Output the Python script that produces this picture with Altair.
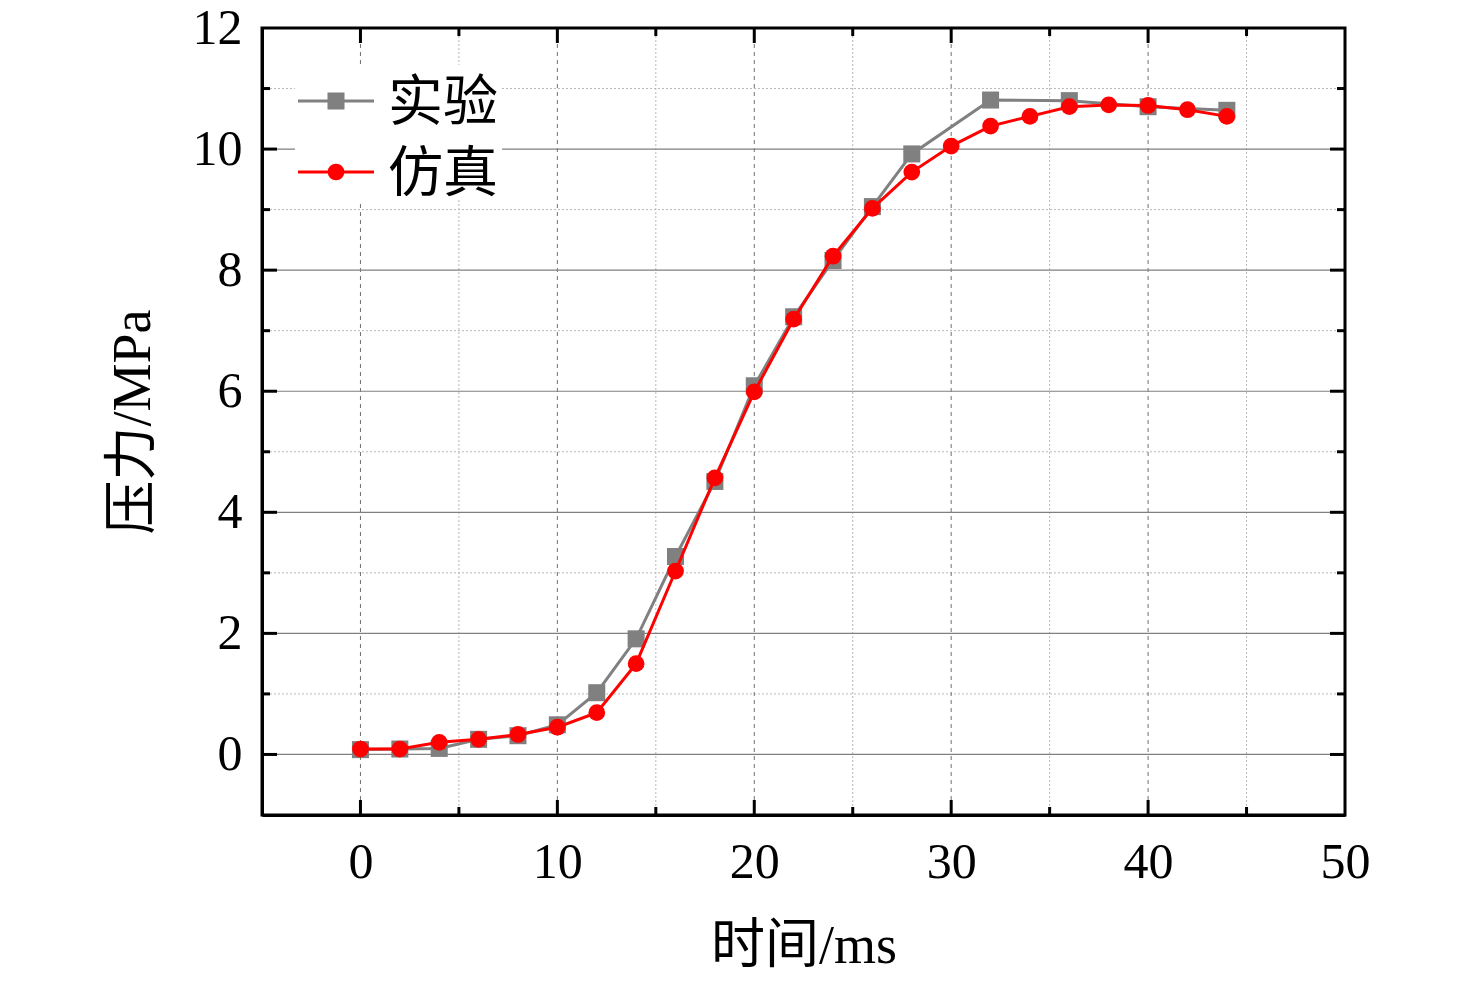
import altair as alt
import pandas as pd

# ---------------- data ----------------
t_exp = [0, 2, 4, 6, 8, 10, 12, 14, 16, 18, 20, 22, 24, 26, 28, 32, 36, 40, 44]
p_exp = [0.08, 0.09, 0.1, 0.25, 0.31, 0.49, 1.02, 1.91, 3.27, 4.51, 6.09, 7.23,
         8.16, 9.05, 9.92, 10.81, 10.80, 10.70, 10.64]
t_sim = [0, 2, 4, 6, 8, 10, 12, 14, 16, 18, 20, 22, 24, 26, 28, 30, 32, 34, 36,
         38, 40, 42, 44]
p_sim = [0.09, 0.09, 0.2, 0.25, 0.33, 0.45, 0.69, 1.5, 3.03, 4.57, 5.99, 7.19,
         8.23, 9.02, 9.62, 10.05, 10.38, 10.54, 10.70, 10.73, 10.72, 10.65, 10.54]

series_names = ["实验", "仿真"]
x_major = [0, 10, 20, 30, 40]
x_minor = [5, 15, 25, 35, 45]
y_major = [0, 2, 4, 6, 8, 10]
y_minor = [1, 3, 5, 7, 9, 11]
x_labels = [0, 10, 20, 30, 40, 50]
y_labels = [0, 2, 4, 6, 8, 10, 12]

W, H = 1083, 787
FONT = "Liberation Serif, Times New Roman, Noto Sans CJK SC"
GRAY = "#808080"
RED = "#ff0000"

exp_df = pd.DataFrame({"t": t_exp, "p": p_exp})
sim_df = pd.DataFrame({"t": t_sim, "p": p_sim})

xs = alt.Scale(domain=[-5, 50], nice=False, zero=False)
ys = alt.Scale(domain=[-1, 12], nice=False, zero=False)

X = alt.X("t:Q", scale=xs,
          axis=alt.Axis(values=x_labels, title="时间/ms", tickSize=0, grid=False,
                        labelPadding=22, titlePadding=32, format="d",
                        labelFontSize=50,
                        labelFlush=False, labelOverlap=False))
Y = alt.Y("p:Q", scale=ys,
          axis=alt.Axis(values=y_labels, title="压力/MPa", tickSize=0, grid=False,
                        labelPadding=20, titlePadding=32, format="d",
                        labelFontSize=50,
                        labelFlush=False, labelOverlap=False))


def vrules(vals, color, dash, width):
    return alt.Chart(pd.DataFrame({"t": vals})).mark_rule(
        color=color, strokeDash=dash, strokeWidth=width
    ).encode(x=alt.X("t:Q", scale=xs), y=alt.value(0), y2=alt.value(H))


def hrules(vals, color, dash, width):
    return alt.Chart(pd.DataFrame({"p": vals})).mark_rule(
        color=color, strokeDash=dash, strokeWidth=width
    ).encode(y=alt.Y("p:Q", scale=ys), x=alt.value(0), x2=alt.value(W))


grid = [
    vrules(x_minor, "#b8b8b8", [2, 2], 1),
    hrules(y_minor, "#b8b8b8", [2, 2], 1),
    vrules(x_major, "#707070", [4, 4], 1),
    hrules(y_major, "#808080", [1, 0], 1.2),
]


def xticks(vals, length):
    d = pd.DataFrame({"t": vals})
    b = alt.Chart(d).mark_rule(color="black", strokeWidth=3).encode(
        x=alt.X("t:Q", scale=xs), y=alt.value(H), y2=alt.value(H - length))
    t = alt.Chart(d).mark_rule(color="black", strokeWidth=3).encode(
        x=alt.X("t:Q", scale=xs), y=alt.value(0), y2=alt.value(length))
    return [b, t]


def yticks(vals, length):
    d = pd.DataFrame({"p": vals})
    l = alt.Chart(d).mark_rule(color="black", strokeWidth=3).encode(
        y=alt.Y("p:Q", scale=ys), x=alt.value(0), x2=alt.value(length))
    r = alt.Chart(d).mark_rule(color="black", strokeWidth=3).encode(
        y=alt.Y("p:Q", scale=ys), x=alt.value(W), x2=alt.value(W - length))
    return [l, r]


ticks = xticks(x_major, 15) + xticks(x_minor, 8) + yticks(y_major, 15) + yticks(y_minor, 8)

exp_line = alt.Chart(exp_df).mark_line(color=GRAY, strokeWidth=3).encode(x=X, y=Y)
exp_pts = alt.Chart(exp_df).mark_point(shape="square", filled=True, color=GRAY,
                                       size=290, opacity=1).encode(x=X, y=Y)
sim_line = alt.Chart(sim_df).mark_line(color=RED, strokeWidth=3).encode(x=X, y=Y)
sim_pts = alt.Chart(sim_df).mark_point(shape="circle", filled=True, color=RED,
                                       size=280, opacity=1).encode(x=X, y=Y)

# ---------------- legend (drawn) ----------------
leg_bg = alt.Chart(pd.DataFrame({"a": [0]})).mark_rect(color="white").encode(
    x=alt.value(33), x2=alt.value(240), y=alt.value(37), y2=alt.value(172))
leg = [leg_bg]
rows = [(73, GRAY, "square", 290), (144, RED, "circle", 280)]
for name, (yy, col, shp, sz) in zip(series_names, rows):
    dd = pd.DataFrame({"name": [name]})
    leg.append(alt.Chart(dd).mark_rule(color=col, strokeWidth=3).encode(
        x=alt.value(36), x2=alt.value(112), y=alt.value(yy)))
    leg.append(alt.Chart(dd).mark_point(shape=shp, filled=True, color=col, size=sz,
                                        opacity=1).encode(x=alt.value(74), y=alt.value(yy)))
    leg.append(alt.Chart(dd).mark_text(align="left", baseline="middle", font=FONT,
                                       fontSize=55, color="black").encode(
        x=alt.value(126), y=alt.value(yy + 2), text="name:N"))

chart = alt.layer(
    *grid, exp_line, exp_pts, sim_line, sim_pts, *leg, *ticks
).properties(
    width=W, height=H,
    autosize=alt.AutoSizeParams(type="none"),
    padding={"left": 254, "top": 20, "right": 100, "bottom": 168},
).configure_view(
    stroke="black", strokeWidth=3
).configure_axis(
    labelFont=FONT, titleFont=FONT, titleFontSize=54,
    labelColor="black", titleColor="black", titleFontWeight="normal",
    domainColor="black", domainWidth=3,
)

chart.save("out.html", embed_options={"renderer": "svg", "actions": False})
